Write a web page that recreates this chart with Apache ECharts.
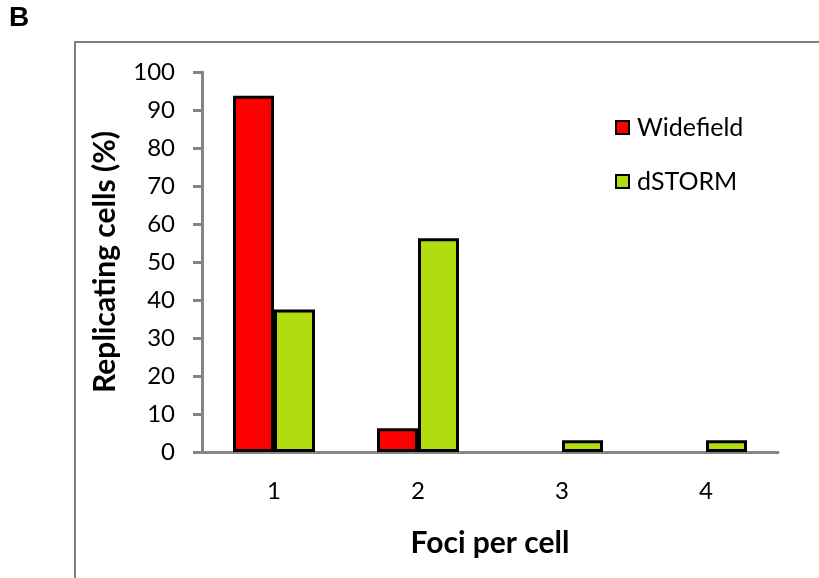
<!DOCTYPE html>
<html>
<head>
<meta charset="utf-8">
<script src="https://cdn.jsdelivr.net/npm/echarts@6/dist/echarts.min.js"></script>
<style>
  html, body { margin: 0; padding: 0; background: #fff; }
  #chart { width: 819px; height: 578px; }
</style>
</head>
<body>
<div id="chart"></div>
<script>
var categories = ['1', '2', '3', '4'];
var widefield = [93.75, 6.25, 0, 0];
var dstorm = [37.5, 56.25, 3.125, 3.125];
var yTicks = { min: 0, max: 100, interval: 10 };

var myChart = echarts.init(document.getElementById('chart'));
var axisGray = '#8a8380';
var font = 'Lato';

// empty bars get no outline, as in the original
function barData(values) {
  return values.map(function (v) {
    if (v === 0)
      return { value: v, itemStyle: { borderWidth: 0 } };
    return { value: v };
  });
}

var option = {
  backgroundColor: '#fff',
  animation: false,
  graphic: [
    {
      type: 'rect',
      shape: { x: 75, y: 42, width: 900, height: 700 },
      style: { fill: 'none', stroke: '#857f7c', lineWidth: 2 }
    },
    {
      type: 'text',
      left: 9, top: 4,
      style: { text: 'B', font: 'bold 28px "Liberation Sans"', fill: '#000' }
    }
  ],
  legend: {
    orient: 'vertical',
    left: 610,
    top: 110,
    itemGap: 29,
    itemWidth: 13,
    itemHeight: 13,
    icon: 'rect',
    textStyle: { fontFamily: font, fontSize: 25, color: '#000', padding: [0, 0, 0, 3] },
    data: ['Widefield', 'dSTORM']
  },
  grid: { left: 202, right: 41, top: 72, bottom: 126 },
  xAxis: {
    type: 'category',
    data: categories,
    name: 'Foci per cell',
    nameLocation: 'middle',
    nameGap: 76,
    nameTextStyle: { fontFamily: font, fontSize: 30, fontWeight: 'bold', color: '#000' },
    axisLine: { lineStyle: { color: axisGray, width: 3 } },
    axisTick: { length: 10, lineStyle: { color: axisGray, width: 3 } },
    axisLabel: { margin: 27, fontFamily: font, fontSize: 24, color: '#000' }
  },
  yAxis: {
    type: 'value',
    min: yTicks.min,
    max: yTicks.max,
    interval: yTicks.interval,
    name: 'Replicating cells (%)',
    nameLocation: 'middle',
    nameGap: 82,
    nameTextStyle: { fontFamily: font, fontSize: 30, fontWeight: 'bold', color: '#000' },
    axisLine: { show: true, lineStyle: { color: axisGray, width: 3 } },
    axisTick: { show: true, length: 9, lineStyle: { color: axisGray, width: 3 } },
    splitLine: { show: false },
    axisLabel: { margin: 27, fontFamily: font, fontSize: 24, color: '#000' }
  },
  series: [
    {
      name: 'Widefield',
      type: 'bar',
      data: barData(widefield),
      barWidth: 41,
      barGap: '0%',
      itemStyle: { color: '#ff0000', borderColor: '#000', borderWidth: 3 }
    },
    {
      name: 'dSTORM',
      type: 'bar',
      data: barData(dstorm),
      barWidth: 41,
      barGap: '0%',
      itemStyle: { color: '#b2dc12', borderColor: '#000', borderWidth: 3 }
    }
  ]
};

myChart.setOption(option);
window.addEventListener('resize', myChart.resize);
</script>
</body>
</html>
